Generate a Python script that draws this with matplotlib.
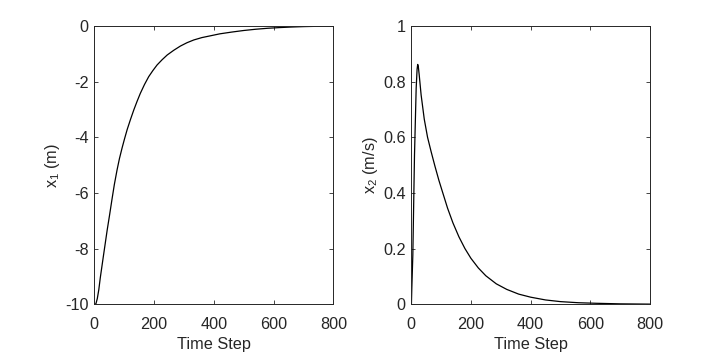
import matplotlib
matplotlib.use('Agg')
from matplotlib import pyplot as plt

plt.rcParams['font.family'] = ['Liberation Sans', 'DejaVu Sans']
plt.rcParams['mathtext.default'] = 'regular'
plt.rcParams['axes.unicode_minus'] = False  # MATLAB style hyphen minus
plt.rcParams['font.size'] = 11.7
plt.rcParams['text.color'] = '#262626'
plt.rcParams['axes.labelcolor'] = '#262626'
plt.rcParams['xtick.color'] = '#262626'
plt.rcParams['ytick.color'] = '#262626'
plt.rcParams['axes.edgecolor'] = '#262626'

# x1 (position)
t1 = [0, 5, 10, 15, 20, 30, 43, 51, 59, 67, 76, 84, 93, 101, 110, 121, 132, 143,
      154, 168, 182, 196, 210, 227, 244, 266, 288, 310, 333, 360, 389, 420, 461,
      500, 540, 580, 620, 660, 700, 750, 800]
x1 = [-10, -10, -9.8, -9.48, -9.05, -8.3, -7.34, -6.8, -6.24, -5.7, -5.18,
      -4.77, -4.38, -4.06, -3.72, -3.36, -3.02, -2.71, -2.42, -2.1, -1.82,
      -1.6, -1.40, -1.21, -1.04, -0.87, -0.72, -0.6, -0.50, -0.415, -0.35,
      -0.28, -0.215, -0.16, -0.115, -0.08, -0.055, -0.035, -0.02, -0.008, 0]

# x2 (velocity)
t2 = [0, 1, 2.3, 5.7, 11.3, 16.9, 20, 22, 24, 27, 33.5, 44, 55, 67, 80, 93, 106,
      122, 140, 160, 180, 200, 225, 250, 285, 320, 360, 400, 450, 500, 560, 620,
      700, 800]
x2 = [0, 0, 0.056, 0.176, 0.536, 0.776, 0.845, 0.862, 0.855, 0.825, 0.752,
      0.665, 0.6, 0.548, 0.495, 0.445, 0.4, 0.345, 0.292, 0.242, 0.2, 0.165,
      0.13, 0.102, 0.073, 0.053, 0.036, 0.025, 0.015, 0.009, 0.005, 0.003,
      0.001, 0]

fig = plt.figure(figsize=(7.2, 3.52), dpi=100)
ax1 = fig.add_axes([0.131, 0.136, 0.332, 0.790])
ax2 = fig.add_axes([0.571, 0.136, 0.332, 0.790])

ax1.plot(t1, x1, color='k', linewidth=0.9)
ax1.set_xlim(0, 800)
ax1.set_ylim(-10, 0)
ax1.set_xticks(range(0, 801, 200))
ax1.set_yticks(range(-10, 1, 2))
ax1.set_xlabel('Time Step')
ax1.set_ylabel('x$_1$ (m)')

ax2.plot(t2, x2, color='k', linewidth=0.9)
ax2.set_xlim(0, 800)
ax2.set_ylim(0, 1)
ax2.set_xticks(range(0, 801, 200))
ax2.set_yticks([0, 0.2, 0.4, 0.6, 0.8, 1])
ax2.set_yticklabels(['0', '0.2', '0.4', '0.6', '0.8', '1'])
ax2.set_xlabel('Time Step')
ax2.set_ylabel('x$_2$ (m/s)')

for ax in (ax1, ax2):
    ax.tick_params(direction='in', length=3, width=0.6, top=True, right=True)
    ax.tick_params(axis='x', pad=9.5)
    ax.tick_params(axis='y', pad=4)
    for s in ax.spines.values():
        s.set_linewidth(0.7)
    ax.xaxis.labelpad = 3.5
    ax.yaxis.labelpad = 2

plt.savefig('out.png', dpi=100)
